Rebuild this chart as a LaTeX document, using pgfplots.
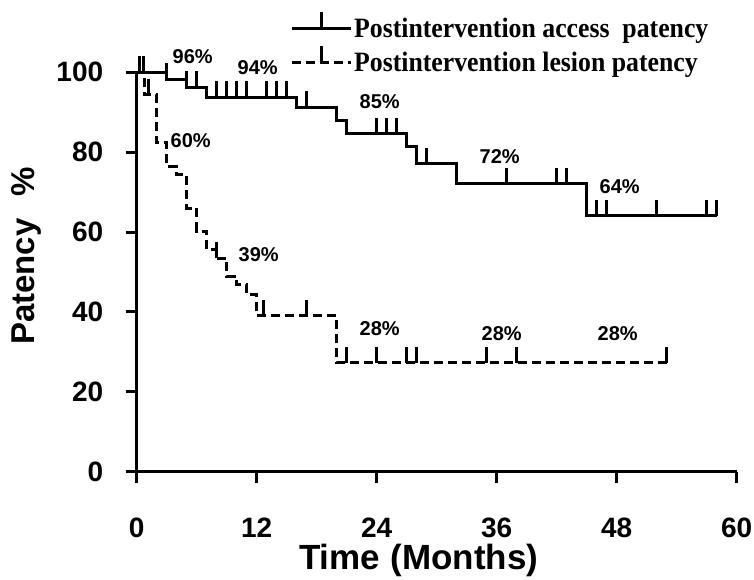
\documentclass[border=0pt]{standalone}
\usepackage{pgfplots}
\pgfplotsset{compat=1.18}
\usepackage{fontspec}
\setmainfont{Liberation Sans}
\newfontfamily\legfont[FakeStretch=0.92]{Liberation Serif}
\pgfdeclareplotmark{cens}{\pgfpathmoveto{\pgfqpoint{0pt}{0pt}}\pgfpathlineto{\pgfqpoint{0pt}{16pt}}\pgfusepathqstroke}

\pgfplotstableread{
x y
0 100
3 98.2
5 96.2
7 93.8
16 91.3
20 88.0
21 84.6
27 81.5
28 77.1
32 72.1
45 64.1
58 64.1
}\access
\pgfplotstableread{
x y
0.7 100
3 98.2
5 96.2
6 96.2
8 93.8
9 93.8
10 93.8
11 93.8
13 93.8
14 93.8
15 93.8
17 91.3
24 84.6
25 84.6
26 84.6
29 77.1
37 72.1
42 72.1
43 72.1
46 64.1
47 64.1
52 64.1
57 64.1
58 64.1
}\accesscens
\pgfplotstableread{
x y
0 100
0.8 94.4
2 82.3
3 76.4
4 74.4
5 66.0
6 60.2
7 55.6
8 53.5
9 48.9
10 46.8
11 44.3
12 39.0
20 27.3
53 27.3
}\lesion
\pgfplotstableread{
x y
0.3 100
1.2 94.4
8 53.5
12.7 39.0
17 39.0
21 27.3
24 27.3
27 27.3
28 27.3
35 27.3
38 27.3
53 27.3
}\lesioncens

\begin{document}
\begin{tikzpicture}
\begin{axis}[name=ax,
  scale only axis, width=600pt, height=399.4pt,
  xmin=0, xmax=60, ymin=0, ymax=100,
  axis lines=left, axis line style={-, line width=3pt},
  xtick={0,12,...,60}, ytick={0,20,...,100},
  tick style={line width=3pt, black}, major tick length=11pt, tick align=outside,
  clip=false,
  ticklabel style={font=\fontsize{28}{32}\selectfont\bfseries},
  xticklabel style={anchor=center, yshift=-45pt, inner sep=1pt},
  yticklabel style={anchor=east, xshift=-19pt},
  /pgf/number format/assume math mode=true,
  xlabel={Time\hspace{0.3em}(Months)}, ylabel={Patency\hspace{22pt}\%},
  every axis x label/.style={at={(axis description cs:0.47,-0.222)}, anchor=center, inner sep=0pt, font=\fontsize{35}{40}\selectfont\bfseries},
  every axis y label/.style={at={(axis description cs:-0.1845,0.54)}, rotate=90, anchor=center, font=\fontsize{33}{40}\selectfont\bfseries},
  legend style={draw=none, fill=none, at={(axis description cs:0.2555,1.156)}, anchor=north west,
    font=\legfont\fontsize{28}{32}\selectfont\bfseries, row sep=3pt, inner sep=0pt,
    cells={anchor=west}, nodes={inner sep=2pt}},
  legend image code/.code={\draw[#1] (0pt,0pt) -- (59pt,0pt); \draw[solid,line width=3pt] (29.5pt,0pt) -- (29.5pt,17pt);},
]
\addplot[const plot, line width=3pt, black, no marks] table[x=x,y=y] {\access};
\addlegendentry{Postintervention access\ \ patency}
\addplot[const plot, line width=3pt, black, no marks, dash pattern=on 9pt off 5pt] table[x=x,y=y] {\lesion};
\addlegendentry{Postintervention lesion patency}
\addplot[only marks, mark=cens, line width=3pt, black, forget plot] table[x=x,y=y] {\accesscens};
\addplot[only marks, mark=cens, line width=3pt, black, forget plot] table[x=x,y=y] {\lesioncens};
\begin{scope}[every node/.style={font=\fontsize{20}{24}\selectfont\bfseries}]
\node at (axis cs:5.6,104.0) {96\%};
\node at (axis cs:12.1,101.2) {94\%};
\node at (axis cs:5.4,82.9) {60\%};
\node at (axis cs:24.3,92.6) {85\%};
\node at (axis cs:36.3,78.9) {72\%};
\node at (axis cs:48.3,71.3) {64\%};
\node at (axis cs:12.2,54.3) {39\%};
\node at (axis cs:24.3,35.8) {28\%};
\node at (axis cs:36.5,34.5) {28\%};
\node at (axis cs:48.1,34.5) {28\%};
\end{scope}
\end{axis}
\pgfresetboundingbox
\path ([shift={(-136.7pt,-107.3pt)}]ax.south west) rectangle ++(754pt,579pt);
\end{tikzpicture}
\end{document}
